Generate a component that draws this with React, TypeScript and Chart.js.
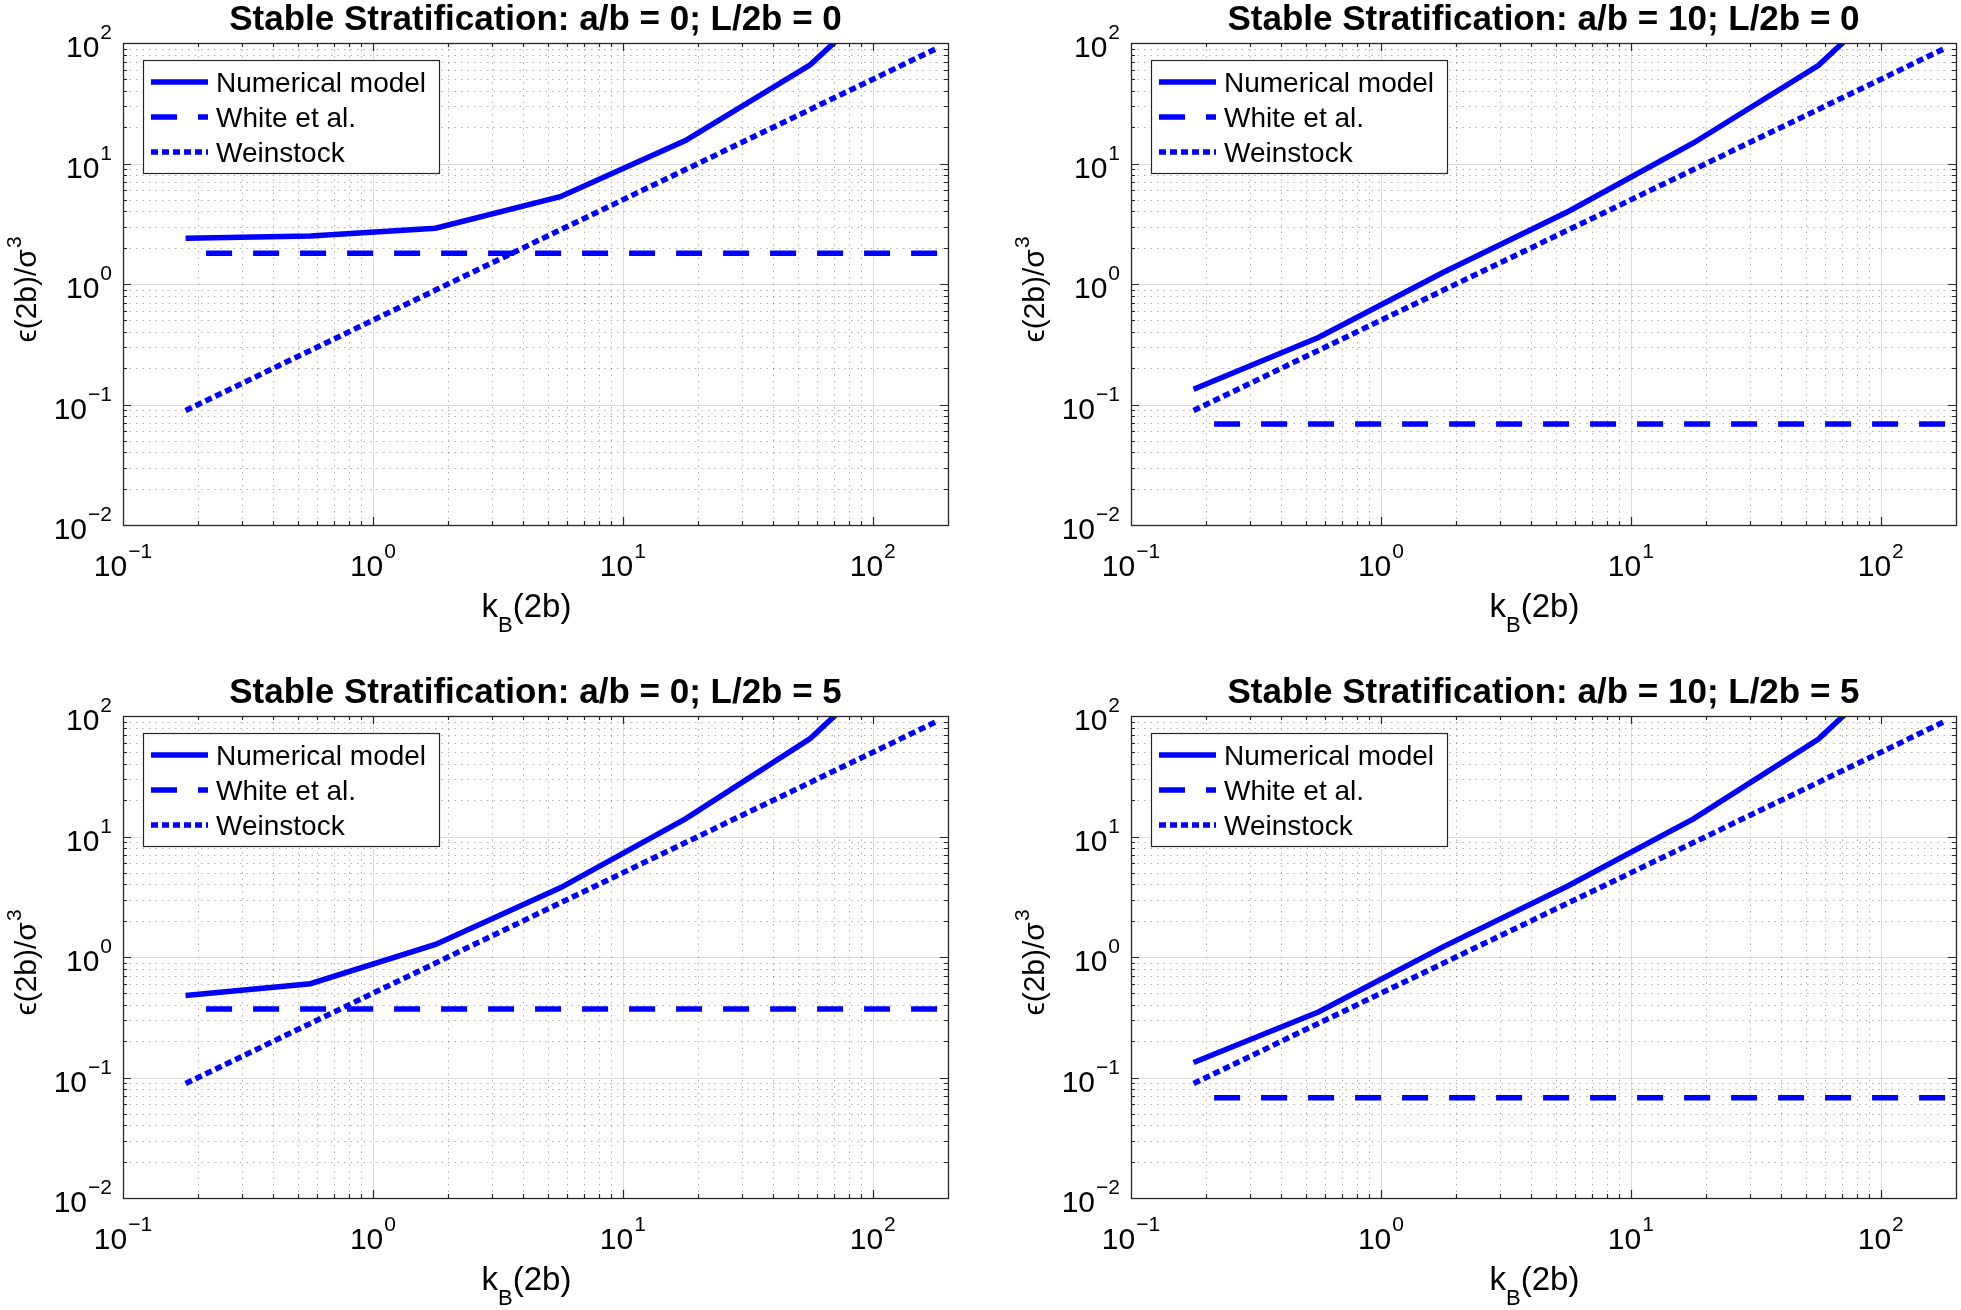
import React, { useEffect, useRef } from "react";
import { Chart, registerables } from "chart.js";

Chart.register(...registerables);

// ---------- data ----------
const kB = [0.178, 0.562, 1.78, 5.62, 17.8, 56.2, 178];
const whiteX = [0.215, 188];
const weinstock = [0.089, 0.281, 0.89, 2.81, 8.9, 28.1, 89];

const numA0L0 = [2.4, 2.5, 2.9, 5.3, 15.5, 66, 600];
const numA10L0 = [0.134, 0.36, 1.25, 4.0, 14.8, 65, 600];
const numA0L5 = [0.48, 0.6, 1.27, 3.75, 14, 65, 600];
const numA10L5 = [0.133, 0.35, 1.22, 3.9, 14, 64, 600];

const whiteA0L0 = [1.8, 1.8];
const whiteA10L0 = [0.069, 0.069];
const whiteA0L5 = [0.37, 0.37];
const whiteA10L5 = [0.068, 0.068];

const panelTitles = [
  "Stable Stratification: a/b = 0; L/2b = 0",
  "Stable Stratification: a/b = 10; L/2b = 0",
  "Stable Stratification: a/b = 0; L/2b = 5",
  "Stable Stratification: a/b = 10; L/2b = 5",
];
const seriesNames = ["Numerical model", "White et al.", "Weinstock"];
const xTickExps = [-1, 0, 1, 2];
const yTickExps = [-2, -1, 0, 1, 2];
const xLabel = { main: "k", sub: "B", rest: "(2b)" };
const yLabel = { main: "\u03F5(2b)/\u03C3", sup: "3" };

// ---------- layout ----------
const CW = 953;
const CH = 637;
const COL_OFF = 1008;
const ROW_OFF = 673;
const BLUE = "#0000ff";
const AX = "#262626";
const FONT = "'Liberation Sans', Arial, Helvetica, sans-serif";

const sup = (e: number) => (e < 0 ? "\u2212" + Math.abs(e) : String(e));

const decor = {
  id: "decor",
  beforeDatasetsDraw(chart: any) {
    const { ctx, chartArea: a, scales } = chart;
    const xs = scales.x;
    const ys = scales.y;
    ctx.save();
    ctx.lineWidth = 1;
    // minor grid
    ctx.setLineDash([1.5, 5]);
    ctx.strokeStyle = "rgba(38,38,38,0.35)";
    for (let e = -1; e <= 2; e++) {
      for (let m = 2; m <= 9; m++) {
        const v = m * Math.pow(10, e);
        if (v >= 200) continue;
        const px = Math.round(xs.getPixelForValue(v)) + 0.5;
        ctx.beginPath();
        ctx.moveTo(px, a.top);
        ctx.lineTo(px, a.bottom);
        ctx.stroke();
      }
    }
    for (let e = -2; e <= 1; e++) {
      for (let m = 2; m <= 9; m++) {
        const v = m * Math.pow(10, e);
        const py = Math.round(ys.getPixelForValue(v)) + 0.5;
        ctx.beginPath();
        ctx.moveTo(a.left, py);
        ctx.lineTo(a.right, py);
        ctx.stroke();
      }
    }
    // major grid
    ctx.setLineDash([]);
    ctx.strokeStyle = "rgba(38,38,38,0.16)";
    for (const e of [0, 1, 2]) {
      const px = Math.round(xs.getPixelForValue(Math.pow(10, e))) + 0.5;
      ctx.beginPath();
      ctx.moveTo(px, a.top);
      ctx.lineTo(px, a.bottom);
      ctx.stroke();
    }
    for (const e of [-1, 0, 1]) {
      const py = Math.round(ys.getPixelForValue(Math.pow(10, e))) + 0.5;
      ctx.beginPath();
      ctx.moveTo(a.left, py);
      ctx.lineTo(a.right, py);
      ctx.stroke();
    }
    ctx.restore();
  },
  afterDatasetsDraw(chart: any) {
    const { ctx, chartArea: a, scales } = chart;
    const xs = scales.x;
    const ys = scales.y;
    const opts = chart.options.plugins.decor;
    ctx.save();
    // box
    ctx.strokeStyle = AX;
    ctx.lineWidth = 1.3;
    ctx.strokeRect(Math.round(a.left) + 0.5, Math.round(a.top) + 0.5, Math.round(a.right - a.left), Math.round(a.bottom - a.top));
    // ticks
    ctx.lineWidth = 1.2;
    for (let e = -1; e <= 2; e++) {
      for (let m = 1; m <= 9; m++) {
        const v = m * Math.pow(10, e);
        if (v >= 200 || v <= 0.1) continue;
        const len = m === 1 ? 8 : 4;
        const px = Math.round(xs.getPixelForValue(v)) + 0.5;
        ctx.beginPath();
        ctx.moveTo(px, a.bottom);
        ctx.lineTo(px, a.bottom - len);
        ctx.moveTo(px, a.top);
        ctx.lineTo(px, a.top + len);
        ctx.stroke();
      }
    }
    for (let e = -2; e <= 1; e++) {
      for (let m = 1; m <= 9; m++) {
        const v = m * Math.pow(10, e);
        if (v <= 0.01) continue;
        const len = m === 1 ? 8 : 4;
        const py = Math.round(ys.getPixelForValue(v)) + 0.5;
        ctx.beginPath();
        ctx.moveTo(a.left, py);
        ctx.lineTo(a.left + len, py);
        ctx.moveTo(a.right, py);
        ctx.lineTo(a.right - len, py);
        ctx.stroke();
      }
    }
    // tick labels
    ctx.fillStyle = "#000";
    ctx.textBaseline = "alphabetic";
    ctx.textAlign = "left";
    const baseFont = `30px ${FONT}`;
    const expFont = `21px ${FONT}`;
    for (const e of xTickExps) {
      const px = xs.getPixelForValue(Math.pow(10, e));
      ctx.font = baseFont;
      const w10 = ctx.measureText("10").width;
      ctx.font = expFont;
      const we = ctx.measureText(sup(e)).width;
      const x0 = px - (w10 + we + 1) / 2;
      ctx.font = baseFont;
      ctx.fillText("10", x0, a.bottom + 51);
      ctx.font = expFont;
      ctx.fillText(sup(e), x0 + w10 + 1, a.bottom + 33);
    }
    for (const e of yTickExps) {
      const py = ys.getPixelForValue(Math.pow(10, e));
      ctx.font = expFont;
      const we = ctx.measureText(sup(e)).width;
      ctx.font = baseFont;
      const w10 = ctx.measureText("10").width;
      const xr = a.left - 11;
      ctx.fillText("10", xr - we - 1 - w10, py + 14);
      ctx.font = expFont;
      ctx.fillText(sup(e), xr - we, py - 4);
    }
    // x axis label
    {
      const mainF = `33px ${FONT}`;
      const subF = `22px ${FONT}`;
      ctx.font = mainF;
      const wk = ctx.measureText(xLabel.main).width;
      const wr = ctx.measureText(xLabel.rest).width;
      ctx.font = subF;
      const wb = ctx.measureText(xLabel.sub).width;
      const total = wk + wb + wr;
      const cx = (a.left + a.right) / 2 - 9;
      const x0 = cx - total / 2;
      const by = a.bottom + 92;
      ctx.font = mainF;
      ctx.fillText(xLabel.main, x0, by);
      ctx.font = subF;
      ctx.fillText(xLabel.sub, x0 + wk, by + 15);
      ctx.font = mainF;
      ctx.fillText(xLabel.rest, x0 + wk + wb, by);
    }
    // y axis label
    {
      const mainF = `30px ${FONT}`;
      const supF = `21px ${FONT}`;
      ctx.font = mainF;
      const wm = ctx.measureText(yLabel.main).width;
      ctx.font = supF;
      const ws = ctx.measureText(yLabel.sup).width;
      const total = wm + ws;
      ctx.save();
      ctx.translate(a.left - 87, (a.top + a.bottom) / 2 + 6);
      ctx.rotate(-Math.PI / 2);
      ctx.font = mainF;
      ctx.fillText(yLabel.main, -total / 2, 0);
      ctx.font = supF;
      ctx.fillText(yLabel.sup, -total / 2 + wm + 1, -15);
      ctx.restore();
    }
    // title
    ctx.font = `bold 35px ${FONT}`;
    ctx.textAlign = "center";
    ctx.fillText(opts.title, (a.left + a.right) / 2, 30);
    ctx.textAlign = "left";
    // legend
    const lx = a.left + 20;
    const ly = a.top + 17;
    ctx.fillStyle = "#fff";
    ctx.fillRect(lx, ly, 296, 113);
    ctx.strokeStyle = AX;
    ctx.lineWidth = 1.2;
    ctx.strokeRect(Math.round(lx) + 0.5, Math.round(ly) + 0.5, 296, 113);
    const rows = [22, 57, 92];
    chart.data.datasets.forEach((ds: any, i: number) => {
      const cy = ly + rows[i];
      ctx.save();
      ctx.strokeStyle = ds.borderColor;
      ctx.lineWidth = ds.borderWidth;
      ctx.lineCap = "butt";
      ctx.setLineDash(ds.borderDash || []);
      ctx.beginPath();
      ctx.moveTo(a.left + 28, cy);
      ctx.lineTo(a.left + 85, cy);
      ctx.stroke();
      ctx.restore();
      ctx.fillStyle = "#000";
      ctx.font = `28px ${FONT}`;
      ctx.fillText(ds.label, a.left + 93, cy + 10);
    });
    ctx.restore();
  },
};

type Panel = { title: string; num: number[]; white: number[] };

const panels: Panel[] = [
  { title: panelTitles[0], num: numA0L0, white: whiteA0L0 },
  { title: panelTitles[1], num: numA10L0, white: whiteA10L0 },
  { title: panelTitles[2], num: numA0L5, white: whiteA0L5 },
  { title: panelTitles[3], num: numA10L5, white: whiteA10L5 },
];

function LogPanel({ panel, left, top }: { panel: Panel; left: number; top: number }) {
  const ref = useRef<HTMLCanvasElement | null>(null);
  useEffect(() => {
    if (!ref.current) return;
    const common = { borderColor: BLUE, borderWidth: 5.5, pointRadius: 0, tension: 0, clip: 0, fill: false };
    const chart = new Chart(ref.current, {
      type: "line",
      data: {
        datasets: [
          { ...common, label: seriesNames[0], data: kB.map((x, i) => ({ x, y: panel.num[i] })), borderDash: [] },
          { ...common, label: seriesNames[1], data: whiteX.map((x, i) => ({ x, y: panel.white[i] })), borderDash: [26, 21] },
          { ...common, label: seriesNames[2], data: kB.map((x, i) => ({ x, y: weinstock[i] })), borderDash: [7, 4] },
        ],
      } as any,
      options: {
        responsive: false,
        animation: false,
        devicePixelRatio: 1,
        layout: { padding: { top: 43, right: 5, left: 0, bottom: 0 } },
        scales: {
          x: {
            type: "logarithmic",
            min: 0.1,
            max: 200,
            ticks: { display: false },
            grid: { display: false },
            border: { display: false },
            afterFit: (s: any) => { s.height = 112; },
          },
          y: {
            type: "logarithmic",
            min: 0.01,
            max: 100,
            ticks: { display: false },
            grid: { display: false },
            border: { display: false },
            afterFit: (s: any) => { s.width = 123; },
          },
        },
        plugins: {
          legend: { display: false },
          tooltip: { enabled: false },
          title: { display: false },
          decor: { title: panel.title },
        },
      } as any,
      plugins: [decor],
    });
    return () => chart.destroy();
  }, [panel]);
  return (
    <canvas
      ref={ref}
      width={CW}
      height={CH}
      style={{ position: "absolute", left, top, width: CW, height: CH }}
    />
  );
}

export default function App() {
  return (
    <div style={{ position: "absolute", left: 0, top: 0, width: 1961, height: 1310, background: "#fff" }}>
      {panels.map((p, i) => (
        <LogPanel key={i} panel={p} left={(i % 2) * COL_OFF} top={Math.floor(i / 2) * ROW_OFF} />
      ))}
    </div>
  );
}
